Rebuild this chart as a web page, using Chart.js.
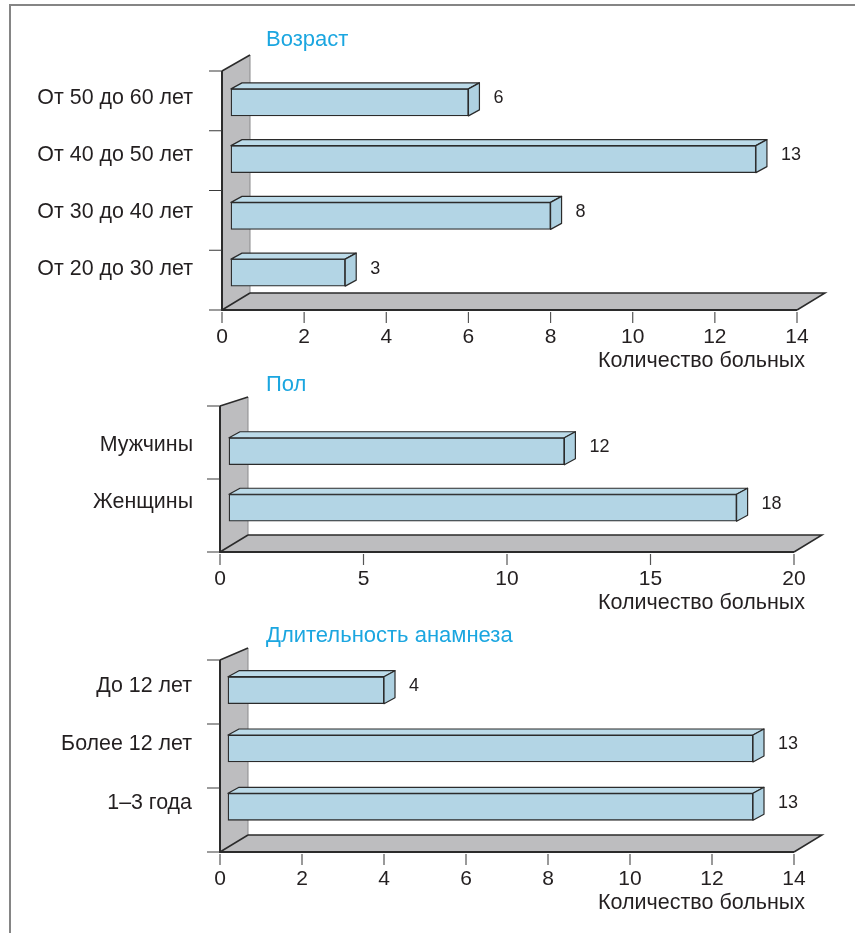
<!DOCTYPE html>
<html>
<head>
<meta charset="utf-8">
<script src="https://cdn.jsdelivr.net/npm/chart.js@4/dist/chart.umd.min.js"></script>
<style>
  html, body { margin: 0; padding: 0; background: #fff; }
  #page { position: relative; width: 855px; height: 933px; overflow: hidden; background: #fff; }
  .panel { position: absolute; left: 0; width: 855px; }
  #frame { position: absolute; left: 9px; top: 4px; width: 900px; height: 1000px;
           border-top: 2px solid #858585; border-left: 2px solid #858585; pointer-events: none; }
</style>
</head>
<body>
<div id="page">
  <div class="panel" style="top:0;height:370px"><canvas id="age" width="855" height="370"></canvas></div>
  <div class="panel" style="top:370px;height:250px"><canvas id="sex" width="855" height="250"></canvas></div>
  <div class="panel" style="top:620px;height:313px"><canvas id="hist" width="855" height="313"></canvas></div>
  <div id="frame"></div>
</div>
<script>
// ---- data ----
const ageLabels = ['От 50 до 60 лет', 'От 40 до 50 лет', 'От 30 до 40 лет', 'От 20 до 30 лет'];
const ageValues = [6, 13, 8, 3];
const ageTicks = [0, 2, 4, 6, 8, 10, 12, 14];

const sexLabels = ['Мужчины', 'Женщины'];
const sexValues = [12, 18];
const sexTicks = [0, 5, 10, 15, 20];

const historyLabels = ['До 12 лет', 'Более 12 лет', '1–3 года'];
const historyValues = [4, 13, 13];
const historyTicks = [0, 2, 4, 6, 8, 10, 12, 14];

const axisTitle = 'Количество больных';

// ---- style ----
const FONT = "'Liberation Sans', Arial, Helvetica, sans-serif";
const INK = '#231f20';
const EDGE = '#2b2b2b';
const WALL = '#bdbdbf';
const BAR = '#b3d5e5';
const BAR_TOP = '#bcdbe9';
const BAR_SIDE = '#aed1e1';
const TITLE = '#1ba6e0';

// Draws the pseudo-3D wall, floor, bar faces, value labels and the value axis.
const depthPlugin = {
  id: 'depth',
  beforeDatasetsDraw(chart, args, o) {
    const { ctx, chartArea: a, scales: { x } } = chart;
    const L = a.left;
    const R = x.getPixelForValue(x.max);
    const WT = a.top - o.wallTop;
    const WB = a.bottom + o.wallBottom;
    ctx.save();
    ctx.fillStyle = WALL;
    // side wall
    ctx.beginPath();
    ctx.moveTo(L, WT);
    ctx.lineTo(L + o.dx, WT - o.topDy);
    ctx.lineTo(L + o.dx, WB - o.dy);
    ctx.lineTo(L, WB);
    ctx.closePath();
    ctx.fill();
    // floor
    ctx.beginPath();
    ctx.moveTo(L, WB);
    ctx.lineTo(L + o.dx, WB - o.dy);
    ctx.lineTo(R + o.dx, WB - o.dy);
    ctx.lineTo(R, WB);
    ctx.closePath();
    ctx.fill();

    // back edges
    ctx.strokeStyle = '#8a8a8c';
    ctx.lineWidth = 1;
    ctx.beginPath();
    ctx.moveTo(L + o.dx, WT - o.topDy);
    ctx.lineTo(L + o.dx, WB - o.dy);
    ctx.stroke();

    ctx.strokeStyle = EDGE;
    ctx.lineWidth = 1.5;
    ctx.beginPath();
    ctx.moveTo(L + o.dx, WB - o.dy);
    ctx.lineTo(R + o.dx, WB - o.dy);
    ctx.lineTo(R, WB);
    ctx.moveTo(L, WT);
    ctx.lineTo(L + o.dx, WT - o.topDy);
    ctx.moveTo(L, WB);
    ctx.lineTo(L + o.dx, WB - o.dy);
    ctx.stroke();

    // front edges
    ctx.lineWidth = 2;
    ctx.beginPath();
    ctx.moveTo(L, WT);
    ctx.lineTo(L, WB);
    ctx.lineTo(R, WB);
    ctx.stroke();

    // category separators on the wall edge
    const n = chart.data.labels.length;
    ctx.strokeStyle = '#3a3a3a';
    ctx.lineWidth = 1.2;
    ctx.beginPath();
    for (let i = 0; i <= n; i++) {
      const yy = WT + (WB - WT) * i / n;
      ctx.moveTo(L - 13, yy);
      ctx.lineTo(L, yy);
    }
    ctx.stroke();
    ctx.restore();
  },
  afterDatasetsDraw(chart, args, o) {
    const { ctx } = chart;
    const meta = chart.getDatasetMeta(0);
    const values = chart.data.datasets[0].data;
    ctx.save();
    ctx.lineJoin = 'round';
    meta.data.forEach((el, i) => {
      const p = el.getProps(['x', 'y', 'base', 'height'], true);
      const left = Math.min(p.x, p.base), right = Math.max(p.x, p.base);
      const top = p.y - p.height / 2, bottom = p.y + p.height / 2;
      ctx.strokeStyle = EDGE;
      ctx.lineWidth = 1.2;
      // top face
      ctx.fillStyle = BAR_TOP;
      ctx.beginPath();
      ctx.moveTo(left, top);
      ctx.lineTo(left + o.barDx, top - o.barDy);
      ctx.lineTo(right + o.barDx, top - o.barDy);
      ctx.lineTo(right, top);
      ctx.closePath();
      ctx.fill();
      ctx.stroke();
      // end face
      ctx.fillStyle = BAR_SIDE;
      ctx.beginPath();
      ctx.moveTo(right, top);
      ctx.lineTo(right + o.barDx, top - o.barDy);
      ctx.lineTo(right + o.barDx, bottom - o.barDy);
      ctx.lineTo(right, bottom);
      ctx.closePath();
      ctx.fill();
      ctx.stroke();
      // value label
      ctx.fillStyle = INK;
      ctx.font = '18px ' + FONT;
      ctx.textAlign = 'left';
      ctx.textBaseline = 'middle';
      ctx.fillText(String(values[i]), right + o.barDx + o.valueGap, p.y - 4);
    });
    ctx.restore();
  },
  afterDraw(chart, args, o) {
    const { ctx, chartArea: a, scales: { x } } = chart;
    const WB = a.bottom + o.wallBottom;
    const WT = a.top - o.wallTop;
    ctx.save();
    // value axis ticks and labels
    ctx.strokeStyle = '#555';
    ctx.lineWidth = 1.2;
    ctx.fillStyle = INK;
    ctx.font = '21px ' + FONT;
    ctx.textAlign = 'center';
    ctx.textBaseline = 'middle';
    o.ticks.forEach(t => {
      const px = x.getPixelForValue(t);
      ctx.beginPath();
      ctx.moveTo(px, WB + 2);
      ctx.lineTo(px, WB + 13);
      ctx.stroke();
      ctx.fillText(String(t), px, WB + 27);
    });
    // axis title
    ctx.font = '21.5px ' + FONT;
    ctx.textAlign = 'right';
    ctx.fillText(axisTitle, 805, WB + 51);
    // panel title
    ctx.font = '22px ' + FONT;
    ctx.fillStyle = TITLE;
    ctx.textAlign = 'left';
    ctx.fillText(o.title, 266, WT + o.titleDy);
    ctx.restore();
  }
};

function makePanel(id, labels, values, ticks, cfg) {
  const canvas = document.getElementById(id);
  const H = canvas.height;
  const unitPx = (cfg.right - cfg.left) / (ticks[ticks.length - 1] - ticks[0]);
  return new Chart(canvas, {
    type: 'bar',
    data: {
      labels: labels,
      datasets: [{
        data: values,
        base: cfg.barInset / unitPx,
        backgroundColor: BAR,
        borderColor: EDGE,
        borderWidth: 1.3,
        borderSkipped: false,
        barThickness: 27
      }]
    },
    options: {
      indexAxis: 'y',
      responsive: false,
      animation: false,
      events: [],
      layout: {
        padding: {
          left: 0,
          right: 855 - cfg.right,
          top: cfg.areaTop,
          bottom: H - cfg.areaBottom
        }
      },
      scales: {
        x: {
          type: 'linear',
          min: ticks[0],
          max: ticks[ticks.length - 1],
          display: false
        },
        y: {
          type: 'category',
          offset: true,
          grid: { display: false, drawTicks: false },
          border: { display: false },
          ticks: {
            color: INK,
            font: { family: FONT, size: 21.4 },
            padding: cfg.labelPad,
            labelOffset: cfg.labelOffset
          },
          afterFit(scale) { scale.width = cfg.left; }
        }
      },
      plugins: {
        legend: { display: false },
        title: { display: false },
        tooltip: { enabled: false },
        depth: {
          dx: 28, dy: 17, topDy: cfg.topDy,
          wallTop: cfg.wallTop, wallBottom: cfg.wallBottom,
          barDx: 11, barDy: 6, valueGap: 14,
          ticks: ticks,
          title: cfg.title, titleDy: cfg.titleDy
        }
      }
    },
    plugins: [depthPlugin]
  });
}

makePanel('age', ageLabels, ageValues, ageTicks, {
  left: 222, right: 797, areaTop: 74, areaBottom: 301,
  wallTop: 3, wallBottom: 9, topDy: 16,
  labelPad: 29, labelOffset: -4, barInset: 9,
  title: 'Возраст', titleDy: -31
});

makePanel('sex', sexLabels, sexValues, sexTicks, {
  left: 220, right: 794, areaTop: 53, areaBottom: 166,
  wallTop: 17, wallBottom: 16, topDy: 9,
  labelPad: 27, labelOffset: -6, barInset: 9,
  title: 'Пол', titleDy: -21
});

makePanel('hist', historyLabels, historyValues, historyTicks, {
  left: 220, right: 794, areaTop: 41, areaBottom: 216,
  wallTop: 1, wallBottom: 16, topDy: 12,
  labelPad: 28, labelOffset: -4, barInset: 8,
  title: 'Длительность анамнеза', titleDy: -24
});
</script>
</body>
</html>
